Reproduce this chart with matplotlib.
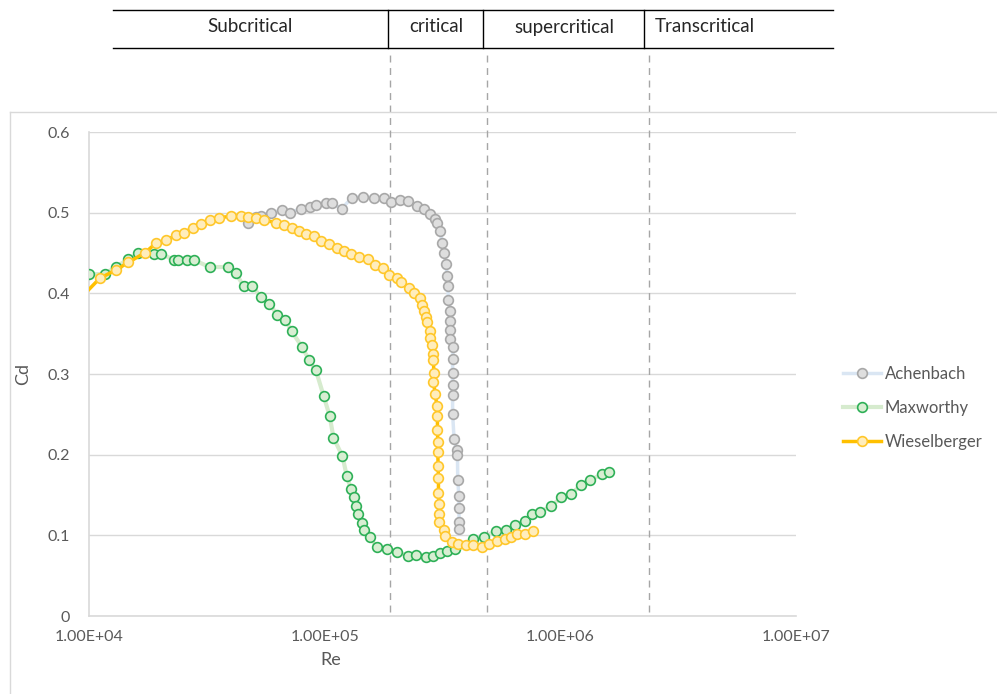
import matplotlib
matplotlib.use("Agg")
import matplotlib.pyplot as plt
from matplotlib.lines import Line2D
from matplotlib.transforms import blended_transform_factory

plt.rcParams['font.family'] = ['Lato', 'DejaVu Sans']

# Achenbach
re_ach = [4.72e4, 5.1e4, 5.37e4, 5.93e4, 6.58e4, 7.16e4, 7.9e4, 8.7e4, 9.16e4, 1.01e5,
          1.07e5, 1.18e5, 1.30e5, 1.46e5, 1.62e5, 1.78e5, 1.91e5, 2.08e5, 2.25e5, 2.46e5,
          2.64e5, 2.80e5, 2.94e5, 3.01e5, 3.09e5, 3.15e5, 3.22e5, 3.27e5, 3.31e5, 3.33e5,
          3.35e5, 3.41e5, 3.41e5, 3.41e5, 3.41e5, 3.51e5, 3.49e5, 3.49e5, 3.49e5, 3.49e5,
          3.49e5, 3.54e5, 3.63e5, 3.66e5, 3.67e5, 3.71e5, 3.71e5, 3.72e5, 3.72e5]
cd_ach = [0.487, 0.495, 0.496, 0.500, 0.503, 0.500, 0.505, 0.507, 0.510, 0.512,
          0.512, 0.505, 0.518, 0.520, 0.518, 0.518, 0.513, 0.516, 0.514, 0.508,
          0.505, 0.498, 0.492, 0.487, 0.477, 0.463, 0.450, 0.436, 0.4215, 0.409,
          0.392, 0.378, 0.366, 0.3545, 0.343, 0.334, 0.318, 0.301, 0.286, 0.274,
          0.251, 0.220, 0.206, 0.1996, 0.169, 0.149, 0.1335, 0.117, 0.1075]

# Maxworthy
re_max = [1.0e4, 1.17e4, 1.30e4, 1.47e4, 1.62e4, 1.89e4, 2.03e4, 2.30e4, 2.39e4, 2.6e4,
          2.8e4, 3.25e4, 3.87e4, 4.2e4, 4.53e4, 4.94e4, 5.35e4, 5.82e4, 6.3e4, 6.82e4,
          7.24e4, 8.0e4, 8.6e4, 9.18e4, 9.9e4, 1.05e5, 1.09e5, 1.19e5, 1.24e5, 1.29e5,
          1.33e5, 1.36e5, 1.38e5, 1.44e5, 1.47e5, 1.55e5, 1.66e5, 1.83e5, 2.03e5, 2.26e5,
          2.44e5, 2.69e5, 2.87e5, 3.09e5, 3.29e5, 3.57e5, 4.25e5, 4.76e5, 5.34e5, 5.9e5,
          6.41e5, 7.1e5, 7.58e5, 8.2e5, 9.13e5, 1.01e6, 1.11e6, 1.22e6, 1.33e6, 1.50e6,
          1.61e6]
cd_max = [0.4236, 0.424, 0.433, 0.442, 0.4496, 0.449, 0.449, 0.441, 0.441, 0.441,
          0.441, 0.4326, 0.4326, 0.4248, 0.409, 0.409, 0.3954, 0.387, 0.3735, 0.367,
          0.353, 0.334, 0.317, 0.3046, 0.2727, 0.248, 0.221, 0.198, 0.174, 0.158,
          0.147, 0.1367, 0.126, 0.115, 0.1066, 0.0983, 0.0859, 0.0831, 0.0797, 0.0744,
          0.0752, 0.0735, 0.0744, 0.0777, 0.081, 0.083, 0.095, 0.0975, 0.1058, 0.1066,
          0.1124, 0.118, 0.127, 0.129, 0.136, 0.147, 0.151, 0.162, 0.168, 0.1757,
          0.1785]

# Wieselberger
re_wie = [9.0e3, 1.11e4, 1.30e4, 1.47e4, 1.73e4, 1.92e4, 2.13e4, 2.35e4, 2.54e4, 2.75e4,
          2.99e4, 3.25e4, 3.55e4, 4.01e4, 4.4e4, 4.72e4, 5.09e4, 5.55e4, 6.19e4, 6.69e4,
          7.24e4, 7.77e4, 8.35e4, 8.98e4, 9.68e4, 1.04e5, 1.13e5, 1.21e5, 1.29e5, 1.40e5,
          1.52e5, 1.64e5, 1.76e5, 1.87e5, 2.02e5, 2.11e5, 2.28e5, 2.40e5, 2.54e5, 2.58e5,
          2.63e5, 2.69e5, 2.72e5, 2.80e5, 2.80e5, 2.85e5, 2.89e5, 2.89e5, 2.91e5, 2.89e5,
          2.95e5, 2.99e5, 3.01e5, 3.01e5, 3.02e5, 3.02e5, 3.03e5, 3.04e5, 3.04e5, 3.06e5,
          3.06e5, 3.06e5, 3.2e5, 3.25e5, 3.46e5, 3.69e5, 3.97e5, 4.28e5, 4.64e5, 4.96e5,
          5.40e5, 5.8e5, 6.19e5, 6.58e5, 7.1e5, 7.65e5]
cd_wie = [0.391, 0.4186, 0.4289, 0.4384, 0.4504, 0.462, 0.4661, 0.4723, 0.4752, 0.4814,
          0.4855, 0.4909, 0.4938, 0.4955, 0.4955, 0.495, 0.4938, 0.4909, 0.4876, 0.4847,
          0.4814, 0.4773, 0.4735, 0.4714, 0.4652, 0.4608, 0.4558, 0.4525, 0.4487, 0.4447,
          0.4422, 0.4351, 0.431, 0.4225, 0.4194, 0.4136, 0.406, 0.400, 0.394, 0.3855,
          0.378, 0.371, 0.3645, 0.353, 0.345, 0.336, 0.325, 0.317, 0.301, 0.290,
          0.275, 0.2607, 0.248, 0.2306, 0.2153, 0.203, 0.186, 0.171, 0.152, 0.139,
          0.126, 0.1165, 0.107, 0.099, 0.092, 0.0889, 0.0876, 0.0876, 0.0859, 0.0892,
          0.093, 0.095, 0.0975, 0.1016, 0.1016, 0.105]

regimes = ['Subcritical', 'critical', 'supercritical', 'Transcritical']
regime_bounds = [1.89e5, 4.89e5, 2.37e6]

x_ticks = [1e4, 1e5, 1e6, 1e7]
x_ticklabels = ['1.00E+04', '1.00E+05', '1.00E+06', '1.00E+07']
y_ticks = [0, 0.1, 0.2, 0.3, 0.4, 0.5, 0.6]
y_ticklabels = ['0', '0.1', '0.2', '0.3', '0.4', '0.5', '0.6']

W, H = 997, 694
fig = plt.figure(figsize=(W / 100, H / 100), dpi=100)
ax = fig.add_axes([89 / W, 1 - 616 / H, 707 / W, 484 / H])

grey_text = '#595959'
grid_col = '#d9d9d9'

ax.plot(re_ach, cd_ach, '-o', color='#dae6f3', lw=2.5, ms=7, mfc='#dedede', mec='#a8a8a8',
        mew=1.2, label='Achenbach', zorder=3)
ax.plot(re_max, cd_max, '-o', color='#d6ebce', lw=3, ms=7, mfc='#d8eed2', mec='#2eb057',
        mew=1.2, label='Maxworthy', zorder=4)
ax.plot(re_wie, cd_wie, '-o', color='#ffc000', lw=2.5, ms=7, mfc='#ffedbc', mec='#ffc72a',
        mew=1.2, label='Wieselberger', zorder=5)

ax.set_xscale('log')
ax.set_xlim(1e4, 1e7)
ax.set_ylim(0, 0.6)
ax.set_xticks(x_ticks)
ax.set_xticklabels(x_ticklabels)
ax.set_xticks([], minor=True)
ax.set_yticks(y_ticks)
ax.set_yticklabels(y_ticklabels)
ax.tick_params(length=0, colors=grey_text, labelsize=11.5)
ax.tick_params(axis='x', pad=10)
ax.tick_params(axis='y', pad=14)
ax.grid(axis='y', color=grid_col, lw=1)
ax.set_axisbelow(True)
for side in ['top', 'right']:
    ax.spines[side].set_visible(False)
for side in ['left', 'bottom']:
    ax.spines[side].set_color(grid_col)
    ax.spines[side].set_linewidth(1.2)

ax.set_xlabel('Re', color=grey_text, fontsize=13)
ax.xaxis.set_label_coords((331 - 89) / 707, -(652 - 616) / 484)
ax.set_ylabel('Cd', color=grey_text, fontsize=13)
ax.yaxis.set_label_coords(-(89 - 31) / 707, 0.5)

ax.legend(loc='center left', bbox_to_anchor=(1.045, 0.43), frameon=False, fontsize=12,
          labelcolor=grey_text, handlelength=2.3, labelspacing=1.1, handletextpad=0.2)

# outer chart frame (only top and left edges are inside the picture)
fig.add_artist(Line2D([10 / W, 1], [1 - 112 / H, 1 - 112 / H], color=grid_col, lw=1))
fig.add_artist(Line2D([10 / W, 10 / W], [0, 1 - 112 / H], color=grid_col, lw=1))

# regime boundaries: dashed lines from the table down to the axis
trans = blended_transform_factory(ax.transData, fig.transFigure)
for b in regime_bounds:
    ax.plot([b, b], [1 - 612 / H, 1 - 50 / H], transform=trans, color='#a6a6a6', lw=1,
            ls=(0, (5, 4)), clip_on=False, zorder=1)

# regime table above the chart
t_top, t_bot = 1 - 10 / H, 1 - 48 / H
fig.add_artist(Line2D([113 / W, 833 / W], [t_top, t_top], color='black', lw=1))
fig.add_artist(Line2D([113 / W, 833 / W], [t_bot, t_bot], color='black', lw=1))
for b, shift in zip(regime_bounds, [2, 4, 5]):
    xf = fig.transFigure.inverted().transform(ax.transData.transform((b, 0)))[0]
    fig.add_artist(Line2D([xf - shift / W] * 2, [t_bot, t_top], color='black', lw=1))

t_mid = 1 - 27 / H
fig.text(250 / W, t_mid, regimes[0], ha='center', va='center', fontsize=13.5, color='#262626')
fig.text(436 / W, t_mid, regimes[1], ha='center', va='center', fontsize=13.5, color='#262626')
fig.text(564 / W, t_mid, regimes[2], ha='center', va='center', fontsize=13.5, color='#262626')
fig.text(655 / W, t_mid, regimes[3], ha='left', va='center', fontsize=13.5, color='#262626')

fig.savefig('out.png', dpi=100)
